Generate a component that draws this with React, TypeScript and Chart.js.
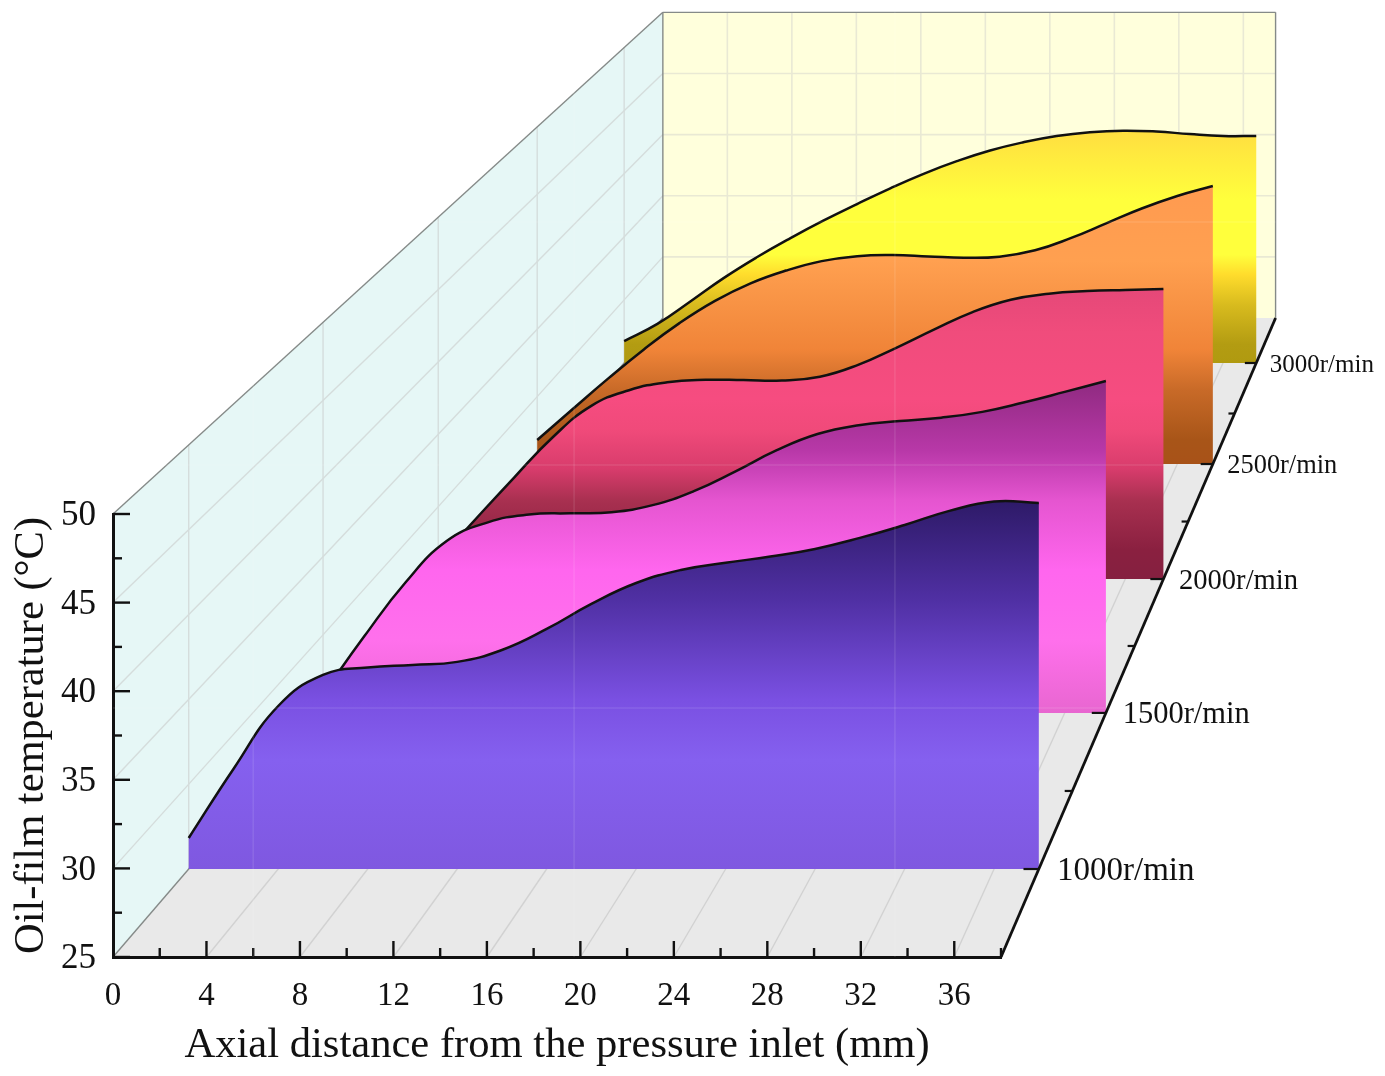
import React, { useEffect, useRef } from "react";
import { Chart, registerables } from "chart.js";

Chart.register(...registerables);

const axialMm = [0, 2, 4, 6, 8, 10, 12, 14, 16, 18, 20, 22, 24, 26, 28, 30, 32, 34, 36, 38];
const speedLabels = ["1000r/min", "1500r/min", "2000r/min", "2500r/min", "3000r/min"];
const temp1000 = [26.83, 30.9, 34.61, 36.44, 36.88, 37.03, 37.21, 37.91, 39.15, 40.63, 41.86, 42.63, 43.05, 43.42, 43.87, 44.52, 45.28, 46.11, 46.67, 46.58];
const temp1500 = [26.2, 29.9, 33.35, 36.0, 37.2, 37.7, 37.78, 37.85, 38.3, 39.2, 40.45, 41.8, 42.85, 43.42, 43.68, 43.9, 44.27, 44.87, 45.55, 46.25];
const temp2000 = [26.31, 29.2, 32.05, 34.8, 36.95, 38.05, 38.6, 38.77, 38.75, 38.72, 38.98, 39.8, 40.98, 42.25, 43.45, 44.3, 44.72, 44.9, 44.98, 45.04];
const temp2500 = [26.78, 29.08, 31.35, 33.5, 35.45, 37.1, 38.4, 39.35, 40.05, 40.42, 40.5, 40.4, 40.3, 40.38, 40.85, 41.75, 42.85, 43.95, 44.88, 45.62];
const temp3000 = [26.74, 28.1, 29.9, 31.75, 33.4, 34.9, 36.3, 37.6, 38.85, 40.0, 41.0, 41.85, 42.5, 43.0, 43.3, 43.42, 43.35, 43.15, 43.0, 43.0];
const seriesTemps = [temp1000, temp1500, temp2000, temp2500, temp3000];
// position of each speed's wall along the depth axis (0 = front, 1 = back wall)
const speedDepth = [0.1377, 0.382, 0.5915, 0.7715, 0.9296];
const labelSizes = [33, 30.5, 28.6, 26.4, 25];

const wallTicksMm = [4, 8, 12, 16, 20, 24, 28, 32, 36];
const wallTicksT = [30, 35, 40, 45];
const seamMm = [6, 19.73, 33.46];
const seamT = [66.48, 52.76, 39.05];

type Stop = [number, string];
const gradients: Stop[][] = [
  [[0, "#2e1a68"], [0.27, "#5030a4"], [0.54, "#7a50e2"], [0.705, "#8560ef"], [1, "#7f58e0"]],
  [[0, "#8f2a80"], [0.21, "#b838a8"], [0.36, "#e555d0"], [0.57, "#ff66ee"], [0.78, "#ff70ec"], [1, "#e866d0"]],
  [[0, "#e54878"], [0.15, "#f04c7c"], [0.38, "#f64c80"], [0.486, "#f04a7a"], [0.62, "#d83c6c"], [0.73, "#a83050"], [0.9, "#8a2040"], [1, "#852040"]],
  [[0, "#ff9a50"], [0.27, "#ffa050"], [0.59, "#f08438"], [0.734, "#c86a28"], [0.914, "#a85518"], [1, "#a85218"]],
  [[0, "#ffde40"], [0.3, "#ffff3c"], [0.534, "#ffff3c"], [0.62, "#ffdc2c"], [0.75, "#d8bb1e"], [0.92, "#b39c12"], [1, "#b09a10"]],
];

const SHRINK = 0.31;
const SHIFT_MM = 23.53;
const SHIFT_T = 36.06;
const project = (mm: number, t: number, f: number) => {
  const s = 1 - SHRINK * f;
  return { x: mm * s + f * SHIFT_MM, y: 25 + (t - 25) * s + f * SHIFT_T };
};

const serif = "'Liberation Serif', serif";

const scenePlugin = {
  id: "scene",
  beforeDraw(chart: any) {
    const { ctx } = chart;
    const P = (mm: number, t: number, f: number) => {
      const p = project(mm, t, f);
      return [chart.scales.x.getPixelForValue(p.x), chart.scales.y.getPixelForValue(p.y)];
    };
    const poly = (pts: number[][], fill: string) => {
      ctx.beginPath();
      pts.forEach((p, i) => (i ? ctx.lineTo(p[0], p[1]) : ctx.moveTo(p[0], p[1])));
      ctx.closePath();
      ctx.fillStyle = fill;
      ctx.fill();
    };
    const seg = (a: number[], b: number[], color: string, w = 1.4) => {
      ctx.beginPath();
      ctx.moveTo(a[0], a[1]);
      ctx.lineTo(b[0], b[1]);
      ctx.strokeStyle = color;
      ctx.lineWidth = w;
      ctx.stroke();
    };
    ctx.save();
    poly([P(0, 25, 0), P(0, 25, 1), P(0, 50, 1), P(0, 50, 0)], "#e6f7f6");
    poly([P(0, 25, 1), P(38, 25, 1), P(38, 50, 1), P(0, 50, 1)], "#ffffdc");
    poly([P(0, 25, 0), P(38, 25, 0), P(38, 25, 1), P(0, 25, 1)], "#e9e9e9");
    const sideGrid = "#d5dddc";
    const backGrid = "#e9e9d4";
    const floorGrid = "#d2d2d2";
    speedDepth.forEach((f) => seg(P(0, 25, f), P(0, 50, f), sideGrid));
    wallTicksT.forEach((t) => {
      seg(P(0, t, 0), P(0, t, 1), sideGrid);
      seg(P(0, t, 1), P(38, t, 1), backGrid, 1.6);
    });
    wallTicksMm.forEach((mm) => {
      seg(P(mm, 25, 1), P(mm, 50, 1), backGrid, 1.6);
      seg(P(mm, 25, 0), P(mm, 25, 1), floorGrid);
    });
    const edge = "#858a88";
    seg(P(0, 25, 0), P(0, 25, 1), edge);
    seg(P(0, 50, 0), P(0, 50, 1), edge);
    seg(P(0, 25, 1), P(0, 50, 1), edge);
    seg(P(0, 50, 1), P(38, 50, 1), edge);
    seg(P(38, 25, 1), P(38, 50, 1), edge);
    ctx.restore();
  },
  beforeDatasetsDraw(chart: any) {
    const { ctx } = chart;
    const { x, y } = chart.scales;
    ctx.save();
    ctx.strokeStyle = "#111";
    ctx.lineWidth = 2.4;
    x.ticks.forEach((t: any) => {
      if (t.value === 0) return;
      const px = x.getPixelForValue(t.value);
      ctx.beginPath();
      ctx.moveTo(px, y.bottom);
      ctx.lineTo(px, y.bottom - (t.value % 4 === 0 ? 16 : 9));
      ctx.stroke();
    });
    y.ticks.forEach((t: any) => {
      const py = y.getPixelForValue(t.value);
      ctx.beginPath();
      ctx.moveTo(x.left, py);
      ctx.lineTo(x.left + (t.value % 5 === 0 ? 17 : 9), py);
      ctx.stroke();
    });
    ctx.restore();
  },
  beforeDatasetDraw(chart: any, args: any) {
    const { ctx } = chart;
    const meta = args.meta;
    const line = meta.dataset;
    const i = args.index;
    const f = speedDepth[i];
    const base = chart.scales.y.getPixelForValue(project(0, 25, f).y);
    const pts = meta.data;
    const top = Math.min(...pts.map((p: any) => p.y));
    const grad = ctx.createLinearGradient(0, top, 0, base);
    gradients[i].forEach(([o, c]) => grad.addColorStop(o, c));
    ctx.save();
    line.updateControlPoints(chart.chartArea, "x");
    ctx.beginPath();
    line.path(ctx);
    ctx.lineTo(pts[pts.length - 1].x, base);
    ctx.lineTo(pts[0].x, base);
    ctx.closePath();
    ctx.fillStyle = grad;
    ctx.fill();
    ctx.restore();
  },
  afterDatasetsDraw(chart: any) {
    const { ctx } = chart;
    const { x, y } = chart.scales;
    const P = (mm: number, t: number, f: number) => {
      const p = project(mm, t, f);
      return [x.getPixelForValue(p.x), y.getPixelForValue(p.y)];
    };
    ctx.save();
    // faint seams of the source picture
    ctx.strokeStyle = "rgba(255,255,255,0.1)";
    ctx.lineWidth = 1.5;
    const topY = P(0, 50, 1)[1];
    const leftX = x.left;
    const rightX = P(38, 25, 1)[0];
    seamMm.forEach((v) => {
      const px = x.getPixelForValue(v);
      ctx.beginPath();
      ctx.moveTo(px, topY);
      ctx.lineTo(px, y.bottom);
      ctx.stroke();
    });
    seamT.forEach((v) => {
      const py = y.getPixelForValue(v);
      ctx.beginPath();
      ctx.moveTo(leftX, py);
      ctx.lineTo(rightX, py);
      ctx.stroke();
    });
    // depth axis
    const a = P(38, 25, 0);
    const b = P(38, 25, 1);
    ctx.strokeStyle = "#111";
    ctx.lineWidth = 2.8;
    ctx.beginPath();
    ctx.moveTo(a[0], a[1]);
    ctx.lineTo(b[0], b[1]);
    ctx.stroke();
    ctx.fillStyle = "#111";
    ctx.textBaseline = "middle";
    ctx.textAlign = "left";
    speedDepth.forEach((f, i) => {
      const p = P(38, 25, f);
      const s = 1 - SHRINK * f;
      ctx.lineWidth = 2.2;
      ctx.beginPath();
      ctx.moveTo(p[0], p[1]);
      ctx.lineTo(p[0] - 16 * s, p[1]);
      ctx.stroke();
      if (i < speedDepth.length - 1) {
        const q = P(38, 25, (f + speedDepth[i + 1]) / 2);
        ctx.beginPath();
        ctx.moveTo(q[0], q[1]);
        ctx.lineTo(q[0] - 8 * s, q[1]);
        ctx.stroke();
      }
      ctx.font = `${labelSizes[i]}px ${serif}`;
      ctx.fillText(speedLabels[i], p[0] + 19 * s, p[1] + 2);
    });
    ctx.restore();
  },
};

export default function App() {
  const ref = useRef<HTMLCanvasElement>(null);
  useEffect(() => {
    const chart = new Chart(ref.current as HTMLCanvasElement, {
      type: "line",
      plugins: [scenePlugin],
      data: {
        datasets: seriesTemps.map((temps, i) => ({
          label: speedLabels[i],
          data: temps.map((t, k) => project(axialMm[k], t, speedDepth[i])),
          borderColor: "#111",
          borderWidth: 2.5,
          pointRadius: 0,
          fill: false,
          clip: false as any,
          tension: 0.45,
          capBezierPoints: false,
        })),
      },
      options: {
        animation: false,
        responsive: false,
        devicePixelRatio: 1,
        layout: { padding: { top: 514, right: 384, left: 0, bottom: 0 } },
        plugins: { legend: { display: false }, tooltip: { enabled: false } },
        scales: {
          x: {
            type: "linear",
            afterDataLimits(s: any) {
              s.min = 0;
              s.max = 38;
            },
            afterFit(s: any) {
              s.height = 119;
            },
            grid: { drawOnChartArea: false, drawTicks: false },
            border: { display: true, color: "#111", width: 3 },
            ticks: {
              stepSize: 2,
              autoSkip: false,
              maxRotation: 0,
              padding: 20,
              color: "#111",
              font: { family: serif, size: 33 },
              callback: (v: any) => (Number(v) % 4 === 0 ? String(v) : ""),
            },
            title: {
              display: true,
              text: "Axial distance from the pressure inlet (mm)",
              color: "#111",
              font: { family: serif, size: 42.6 },
              padding: { top: 0, bottom: 5 },
            },
          },
          y: {
            type: "linear",
            afterDataLimits(s: any) {
              s.min = 25;
              s.max = 50;
            },
            afterFit(s: any) {
              s.width = 113;
            },
            grid: { drawOnChartArea: false, drawTicks: false },
            border: { display: true, color: "#111", width: 3 },
            ticks: {
              stepSize: 2.5,
              autoSkip: false,
              padding: 17,
              labelOffset: 2,
              color: "#111",
              font: { family: serif, size: 35 },
              callback: (v: any) => (Number(v) % 5 === 0 ? String(v) : ""),
            },
            title: {
              display: true,
              text: "Oil-film temperature (°C)",
              color: "#111",
              font: { family: serif, size: 42.5 },
              padding: { top: 6, bottom: 0 },
            },
          },
        },
      },
    } as any);
    return () => chart.destroy();
  }, []);
  return (
    <canvas
      ref={ref}
      width={1385}
      height={1076}
      style={{ position: "absolute", left: 0, top: 0, width: 1385, height: 1076 }}
    />
  );
}
